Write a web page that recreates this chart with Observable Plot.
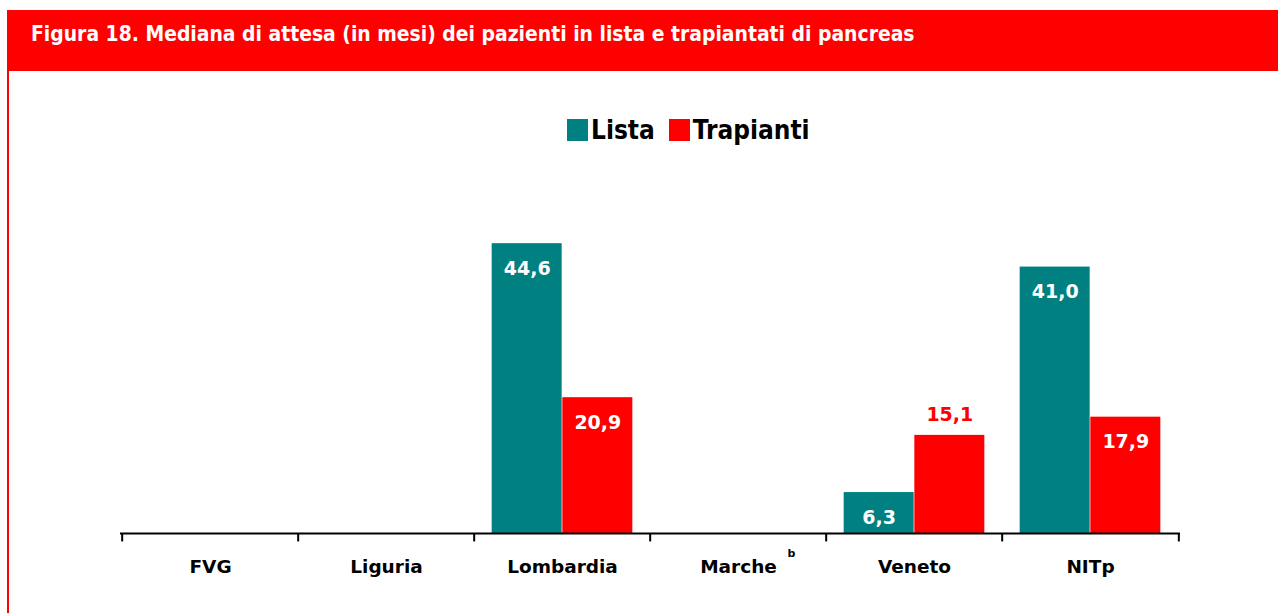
<!DOCTYPE html>
<html>
<head>
<meta charset="utf-8">
<script src="https://cdn.jsdelivr.net/npm/d3@7"></script>
<script src="https://cdn.jsdelivr.net/npm/@observablehq/plot@0.6"></script>
<style>
  html, body { margin: 0; padding: 0; background: #fff; }
  #wrap { position: relative; width: 1278px; height: 613px; overflow: hidden; font-family: "DejaVu Sans Condensed", "DejaVu Sans", sans-serif; font-stretch: condensed; font-weight: bold; }
  #titlebar { position: absolute; left: 7px; top: 10px; width: 1271px; height: 61px; background: #ff0000; }
  #title { position: absolute; left: 24px; top: 12px; color: #fff; font-size: 20.9px; white-space: nowrap; }
  #leftborder { position: absolute; left: 7px; top: 71px; width: 2px; height: 542px; background: #ff0000; }
  #legend { position: absolute; left: 567px; top: 115px; display: flex; align-items: center; font-size: 26px; color: #000; white-space: nowrap; }
  .sw { display: inline-block; width: 21px; height: 22px; margin-right: 3px; }
  .item { display: flex; align-items: center; margin-right: 14px; }
  #chart { position: absolute; left: 0; top: 160px; font-stretch: normal; }
</style>
</head>
<body>
<div id="wrap">
  <div id="titlebar"><div id="title"></div></div>
  <div id="leftborder"></div>
  <div id="legend"></div>
  <div id="chart"></div>
</div>
<script>
const titleText = "Figura 18. Mediana di attesa (in mesi) dei pazienti in lista e trapiantati di pancreas";
const categories = ["FVG", "Liguria", "Lombardia", "Marche", "Veneto", "NITp"];
const series = ["Lista", "Trapianti"];
const colors = ["#008080", "#ff0000"];
const lista = [null, null, 44.6, null, 6.3, 41.0];
const trapianti = [null, null, 20.9, null, 15.1, 17.9];
const footnotes = {"Marche": "b"};
const labelsAbove = ["Veneto|Trapianti"];

document.getElementById("title").textContent = titleText;
const legend = document.getElementById("legend");
series.forEach((s, i) => {
  const it = document.createElement("div");
  it.className = "item";
  it.innerHTML = `<span class="sw" style="background:${colors[i]}"></span><span>${s}</span>`;
  legend.appendChild(it);
});

const data = [];
categories.forEach((c, i) => {
  if (lista[i] != null) data.push({cat: c, series: "Lista", value: lista[i]});
  if (trapianti[i] != null) data.push({cat: c, series: "Trapianti", value: trapianti[i]});
});
const fmt = v => v.toFixed(1).replace(".", ",");

const W = 1278, H = 453, mL = 120, mR = 98, mT = 0, mB = 80;
const step = (W - mL - mR) / categories.length;
const pad = step * 0.1;
const bw = (step - 2 * pad) / 2;
const half = bw / 2; // distance of each bar's center from the band center

const isAbove = d => labelsAbove.includes(d.cat + "|" + d.series);
const font = "DejaVu Sans, sans-serif";

const chart = Plot.plot({
  width: W, height: H,
  marginLeft: mL, marginRight: mR, marginTop: mT, marginBottom: mB,
  style: {fontFamily: font, fontWeight: "bold", background: "transparent"},
  x: {type: "band", domain: categories, padding: 0, axis: null},
  y: {domain: [0, 57.4], axis: null},
  color: {domain: series, range: colors},
  marks: [
    Plot.barY(data.filter(d => d.series === "Lista"), {x: "cat", y: "value", fill: "series", insetLeft: pad, insetRight: pad + bw}),
    Plot.barY(data.filter(d => d.series === "Trapianti"), {x: "cat", y: "value", fill: "series", insetLeft: pad + bw, insetRight: pad}),
    Plot.ruleY([0], {stroke: "#000", strokeWidth: 2}),
    Plot.ruleX(categories, {x: d => d, dx: -step / 2, y1: 0, y2: -1.3, stroke: "#000", strokeWidth: 2}),
    Plot.ruleX(categories.slice(-1), {x: d => d, dx: step / 2, y1: 0, y2: -1.3, stroke: "#000", strokeWidth: 2}),
    Plot.text(data.filter(d => d.series === "Lista" && !isAbove(d)), {x: "cat", y: "value", text: d => fmt(d.value), dx: -half, dy: 25, fill: "#fff", fontSize: 19, fontWeight: "bold"}),
    Plot.text(data.filter(d => d.series === "Trapianti" && !isAbove(d)), {x: "cat", y: "value", text: d => fmt(d.value), dx: half, dy: 25, fill: "#fff", fontSize: 19, fontWeight: "bold"}),
    Plot.text(data.filter(d => isAbove(d)), {x: "cat", y: "value", text: d => fmt(d.value), dx: half, dy: -20, fill: "#ff0000", fontSize: 19, fontWeight: "bold"}),
    Plot.text(categories, {x: d => d, y: 0, text: d => d, dy: 34, fill: "#000", fontSize: 18.5, fontWeight: "bold"}),
    Plot.text(Object.keys(footnotes), {x: d => d, y: 0, text: d => footnotes[d], dx: 53, dy: 20, fill: "#000", fontSize: 11, fontWeight: "bold"})
  ]
});
document.getElementById("chart").appendChild(chart);
</script>
</body>
</html>
